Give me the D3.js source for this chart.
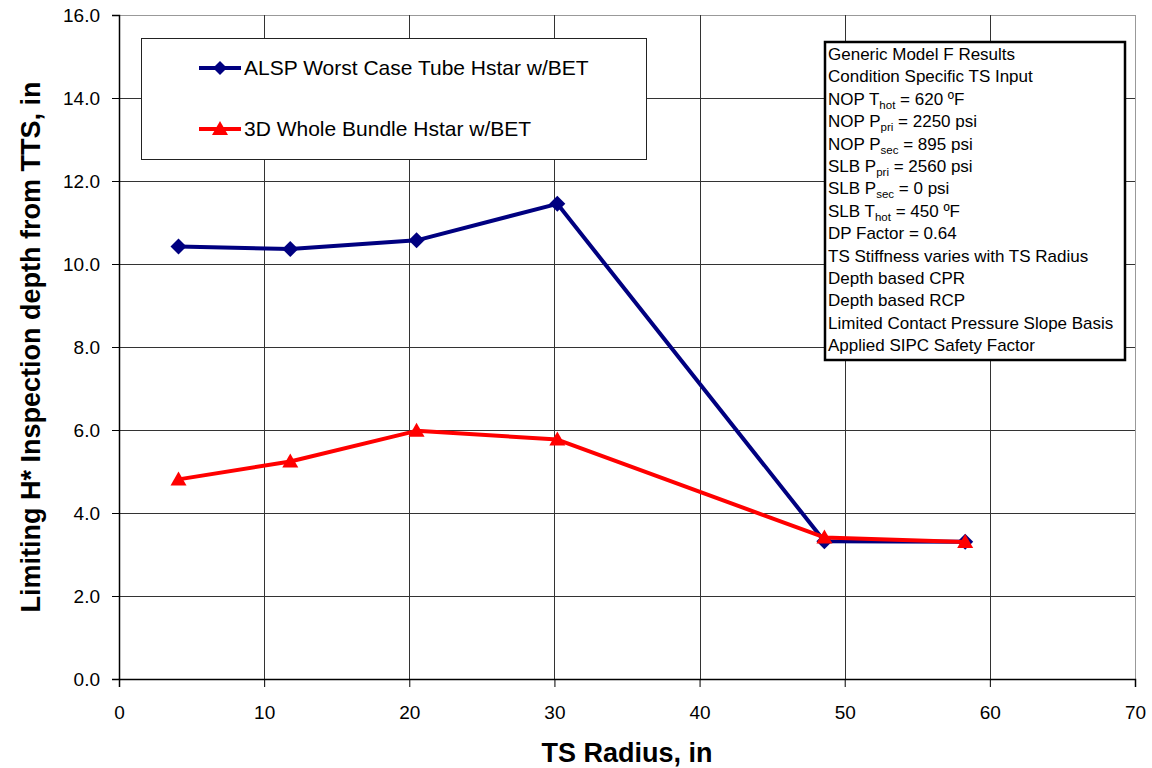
<!DOCTYPE html>
<html><head><meta charset="utf-8">
<script src="https://cdn.jsdelivr.net/npm/d3@7"></script>
<style>body{margin:0;background:#fff;} text{font-family:Arial,"Liberation Sans",sans-serif;}</style>
</head><body><svg id="c" width="1152" height="768"></svg>
<script>
const xTicks = [0,10,20,30,40,50,60,70];
const yTicks = [0,2,4,6,8,10,12,14,16];
const radius = [4.1, 11.8, 20.5, 30.2, 48.6, 58.3];
const alspValues = [10.42, 10.36, 10.57, 11.45, 3.32, 3.31];
const bundleValues = [4.81, 5.24, 5.98, 5.77, 3.41, 3.30];
const seriesNames = ["ALSP Worst Case Tube Hstar w/BET", "3D Whole Bundle Hstar w/BET"];
const noteLines = [
  ["Generic Model F Results"],
  ["Condition Specific TS Input"],
  ["NOP T", "hot", " = 620 ºF"],
  ["NOP P", "pri", " = 2250 psi"],
  ["NOP P", "sec", " = 895 psi"],
  ["SLB P", "pri", " = 2560 psi"],
  ["SLB P", "sec", " = 0 psi"],
  ["SLB T", "hot", " = 450 ºF"],
  ["DP Factor = 0.64"],
  ["TS Stiffness varies with TS Radius"],
  ["Depth based CPR"],
  ["Depth based RCP"],
  ["Limited Contact Pressure Slope Basis"],
  ["Applied SIPC Safety Factor"]
];

const svg = d3.select("#c");
const L = 119, R = 1135, T = 15, B = 679;
const x = d3.scaleLinear().domain([0,70]).range([L,R]);
const y = d3.scaleLinear().domain([0,16]).range([B,T]);

// gridlines
svg.append("g").selectAll("line").data(yTicks.filter(d=>d>0)).join("line")
  .attr("x1",L).attr("x2",R).attr("y1",d=>Math.round(y(d))+0.5).attr("y2",d=>Math.round(y(d))+0.5)
  .attr("stroke", d=>d===16?"#999":"#333").attr("stroke-width",1);
svg.append("g").selectAll("line").data(xTicks.filter(d=>d>0)).join("line")
  .attr("y1",T).attr("y2",B).attr("x1",d=>Math.round(x(d))+0.5).attr("x2",d=>Math.round(x(d))+0.5)
  .attr("stroke", d=>d===70?"#999":"#333").attr("stroke-width",1);

// axes
const xAxis = d3.axisBottom(x).tickValues(xTicks).tickSize(8).tickPadding(19).tickFormat(d3.format("d"));
const yAxis = d3.axisLeft(y).tickValues(yTicks).tickSize(7).tickPadding(12).tickFormat(d3.format(".1f"));
const gx = svg.append("g").attr("transform",`translate(0,${B})`).call(xAxis);
const gy = svg.append("g").attr("transform",`translate(${L},0)`).call(yAxis);
[gx,gy].forEach(g=>{
  g.select(".domain").attr("stroke","#000").attr("stroke-width",1.5);
  g.selectAll(".tick line").attr("stroke","#000");
  g.selectAll(".tick text").attr("font-size",19).attr("fill","#000").style("font-family","Arial, 'Liberation Sans', sans-serif");
});

// axis titles
svg.append("text").attr("x",627).attr("y",762).attr("text-anchor","middle")
  .attr("font-size",27).attr("font-weight","bold").text("TS Radius, in");
svg.append("text").attr("transform",`translate(40,${(T+B)/2}) rotate(-90)`).attr("text-anchor","middle")
  .attr("font-size",27).attr("font-weight","bold").text("Limiting H* Inspection depth from TTS, in");

// series
const line = d3.line().x(d=>x(d[0])).y(d=>y(d[1]));
const blueData = radius.map((r,i)=>[r,alspValues[i]]);
const redData = radius.map((r,i)=>[r,bundleValues[i]]);
const blue = "#000080", red = "#FF0000";
svg.append("path").datum(blueData).attr("d",line).attr("fill","none").attr("stroke",blue).attr("stroke-width",4).attr("stroke-linejoin","round");
svg.append("g").selectAll("path").data(blueData).join("path")
  .attr("transform",d=>`translate(${x(d[0])},${y(d[1])})`)
  .attr("d","M0,-8L8,0L0,8L-8,0Z").attr("fill",blue);
svg.append("path").datum(redData).attr("d",line).attr("fill","none").attr("stroke",red).attr("stroke-width",4).attr("stroke-linejoin","round");
svg.append("g").selectAll("path").data(redData).join("path")
  .attr("transform",d=>`translate(${x(d[0])},${y(d[1])})`)
  .attr("d","M0,-8L8,6L-8,6Z").attr("fill",red);

// legend
const lg = svg.append("g");
lg.append("rect").attr("x",141.5).attr("y",38.5).attr("width",505).attr("height",121)
  .attr("fill","#fff").attr("stroke","#222").attr("stroke-width",1);
const legY = [68,129];
seriesNames.forEach((name,i)=>{
  const c = i===0?blue:red;
  lg.append("line").attr("x1",199).attr("x2",241).attr("y1",legY[i]).attr("y2",legY[i]).attr("stroke",c).attr("stroke-width",4);
  lg.append("path").attr("transform",`translate(220,${legY[i]})`)
    .attr("d", i===0?"M0,-7L7,0L0,7L-7,0Z":"M0,-8L8,6L-8,6Z").attr("fill",c);
  lg.append("text").attr("x",244).attr("y",legY[i]+7).attr("font-size",21).attr("fill","#000").text(name);
});

// note box
const nb = svg.append("g");
nb.append("rect").attr("x",825).attr("y",42).attr("width",300).attr("height",318)
  .attr("fill","#fff").attr("stroke","#000").attr("stroke-width",2.5);
noteLines.forEach((parts,i)=>{
  const t = nb.append("text").attr("x",828).attr("y",60+i*22.4).attr("font-size",17).attr("fill","#000");
  parts.forEach((p,j)=>{
    if (j===1) t.append("tspan").attr("font-size",11.5).attr("dy",4).text(p);
    else if (j===2) t.append("tspan").attr("dy",-4).text(p);
    else t.append("tspan").text(p);
  });
});
</script></body></html>
